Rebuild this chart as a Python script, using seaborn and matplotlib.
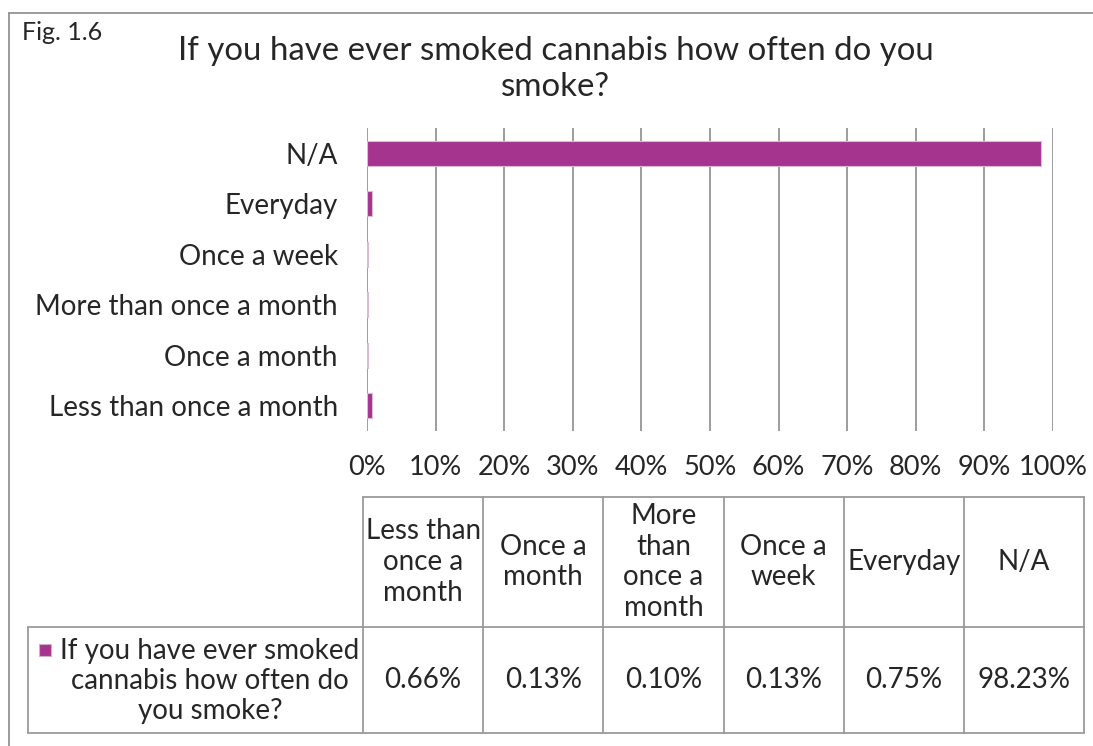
import matplotlib
matplotlib.use("Agg")
import matplotlib.pyplot as plt
from matplotlib.patches import Rectangle
import seaborn as sns
import pandas as pd

# chart data
categories = ["N/A", "Everyday", "Once a week", "More than once a month",
              "Once a month", "Less than once a month"]
values = [98.23, 0.75, 0.13, 0.10, 0.13, 0.66]
xticks = [0, 10, 20, 30, 40, 50, 60, 70, 80, 90, 100]

# data table below the chart
table_headers = ["Less than\nonce a\nmonth", "Once a\nmonth", "More\nthan\nonce a\nmonth",
                 "Once a\nweek", "Everyday", "N/A"]
table_values = ["0.66%", "0.13%", "0.10%", "0.13%", "0.75%", "98.23%"]
series_name = "If you have ever smoked\ncannabis how often do\nyou smoke?"
title = "If you have ever smoked cannabis how often do you\nsmoke?"

PURPLE = "#A5348E"
GRID = "#8c8c8c"
FONT = "Lato"
FS = 20

sns.set_theme(style="white")
plt.rcParams["font.family"] = [FONT, "DejaVu Sans"]

W, H = 1093, 746
fig = plt.figure(figsize=(W / 100, H / 100), dpi=100)

# overlay in pixel coordinates for frame, title and table
over = fig.add_axes([0, 0, 1, 1])
over.set_xlim(0, W)
over.set_ylim(H, 0)
over.axis("off")

# chart area
ax = fig.add_axes([367 / W, 1 - 431 / H, 686 / W, 303 / H])
df = pd.DataFrame({"category": categories, "value": values})
sns.barplot(data=df, x="value", y="category", order=categories, color=PURPLE,
            width=0.5, edgecolor="#d9bcd2", linewidth=0.8, saturation=1, ax=ax)
ax.set_xlim(0, 100)
ax.set_xticks(xticks)
ax.set_xticklabels([f"{t}%" for t in xticks], fontsize=19.5)
ax.tick_params(axis="x", length=0, pad=17)
ax.tick_params(axis="y", length=0, pad=21, labelsize=FS)
ax.xaxis.grid(True, color=GRID, linewidth=1.2)
ax.yaxis.grid(False)
ax.set_axisbelow(True)
ax.set_xlabel("")
ax.set_ylabel("")
for s in ax.spines.values():
    s.set_visible(False)

# outer frame (top and left)
over.plot([9, 9], [13, H], color="#8a8a8a", lw=1.2)
over.plot([9, W], [13, 13], color="#8a8a8a", lw=1.2)

over.text(22, 33, "Fig. 1.6", fontsize=18, ha="left", va="center")
over.text(556, 69, title, fontsize=23.8, ha="center", va="center", linespacing=1.27)

# data table
col_left = 363
col_w = 120.2
top, mid, bottom = 497, 627, 733
label_left = 28
line_kw = dict(color="#9a9a9a", lw=1.3)
right = col_left + col_w * len(table_headers)
over.plot([col_left, right], [top, top], **line_kw)
over.plot([label_left, right], [mid, mid], **line_kw)
over.plot([label_left, right], [bottom, bottom], **line_kw)
over.plot([label_left, label_left], [mid, bottom], **line_kw)
for i in range(len(table_headers) + 1):
    x = col_left + i * col_w
    over.plot([x, x], [top, bottom], **line_kw)
for i, (h, v) in enumerate(zip(table_headers, table_values)):
    cx = col_left + (i + 0.5) * col_w
    over.text(cx, (top + mid) / 2, h, fontsize=FS, ha="center", va="center", linespacing=1.22)
    over.text(cx, (mid + bottom) / 2, v, fontsize=FS, ha="center", va="center")

over.add_patch(Rectangle((39, 644), 12, 12, facecolor=PURPLE, edgecolor="#cfb0c8", lw=0.8))
over.text(210, (mid + bottom) / 2 + 1, series_name, fontsize=FS, ha="center", va="center",
          linespacing=1.2)

fig.savefig("out.png", dpi=100)
